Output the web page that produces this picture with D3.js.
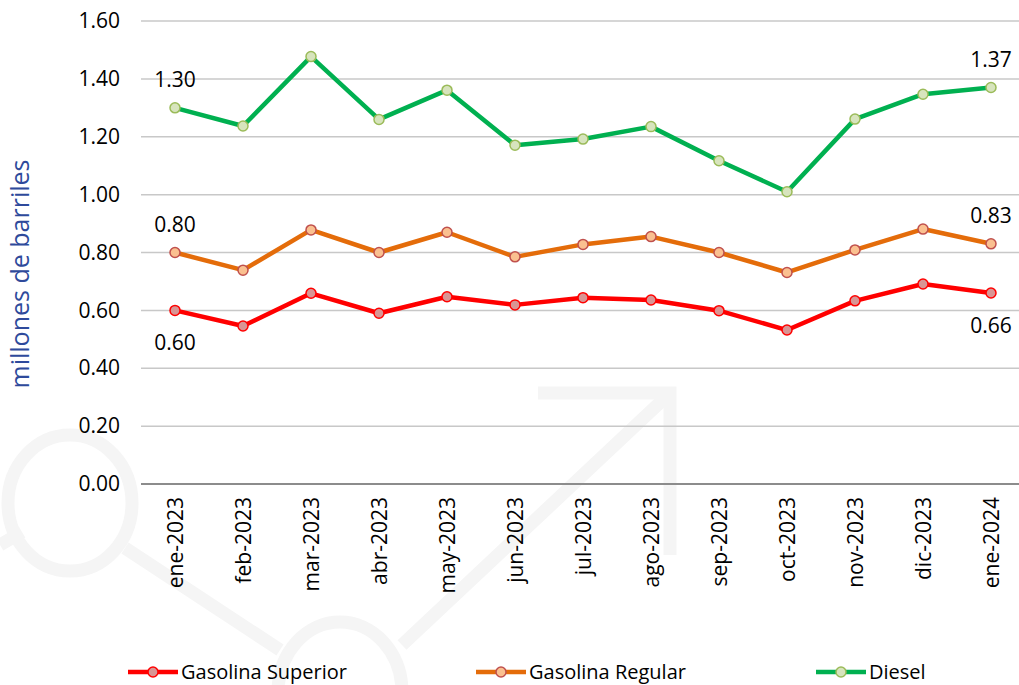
<!DOCTYPE html>
<html>
  <head>
    <meta charset="utf-8" />
    <title>Ventas de combustibles</title>
    <script src="https://d3js.org/d3.v7.min.js"></script>
    <style>
        body { margin: 0; background: #fff; }
        text { font-family: "Open Sans", sans-serif; fill: #000; }
        .tick text { font-size: 21px; }
    </style>
  </head>
<body>
    <svg id="chart" width="1019" height="685"></svg>

    <script>
        var months = ["ene-2023", "feb-2023", "mar-2023", "abr-2023", "may-2023", "jun-2023",
                      "jul-2023", "ago-2023", "sep-2023", "oct-2023", "nov-2023", "dic-2023", "ene-2024"];

        var superior = [0.60, 0.546, 0.659, 0.590, 0.647, 0.619, 0.644, 0.636, 0.599, 0.532, 0.633, 0.691, 0.66];
        var regular  = [0.80, 0.739, 0.878, 0.800, 0.870, 0.785, 0.828, 0.855, 0.800, 0.731, 0.809, 0.881, 0.83];
        var diesel   = [1.30, 1.237, 1.477, 1.260, 1.361, 1.171, 1.192, 1.235, 1.117, 1.010, 1.261, 1.347, 1.37];

        var yTicks = [0, 0.2, 0.4, 0.6, 0.8, 1.0, 1.2, 1.4, 1.6];

        var seriesNames = ["Gasolina Superior", "Gasolina Regular", "Diesel"];

        var series = [
            { name: seriesNames[0], values: superior, line: "#ff0000", fill: "#d99594", stroke: "#ff0000", labelPos: "below" },
            { name: seriesNames[1], values: regular,  line: "#e46c0a", fill: "#fac090", stroke: "#c0504d", labelPos: "above" },
            { name: seriesNames[2], values: diesel,   line: "#00b050", fill: "#d7e4bd", stroke: "#9bbb59", labelPos: "above" }
        ];

        var svg = d3.select("#chart");

        // faint watermark behind the chart
        var wm = svg.append("g")
            .attr("fill", "none")
            .attr("stroke", "#f5f5f5")
            .attr("stroke-width", 13);
        wm.append("ellipse").attr("cx", 70).attr("cy", 503).attr("rx", 62).attr("ry", 68);
        wm.append("ellipse").attr("cx", 340).attr("cy", 692).attr("rx", 62).attr("ry", 70);
        wm.append("line").attr("x1", 0).attr("y1", 545).attr("x2", 22).attr("y2", 532);
        wm.append("line").attr("x1", 125).attr("y1", 548).attr("x2", 280).attr("y2", 650);
        wm.append("line").attr("x1", 402).attr("y1", 645).attr("x2", 668).attr("y2", 395);
        wm.append("polyline").attr("points", "538,393 670,393 670,555");

        var x = d3.scaleBand()
            .domain(months)
            .range([141, 1025]);

        var y = d3.scaleLinear()
            .domain([0, 1.6])
            .range([484, 21]);

        // gridlines
        svg.append("g")
            .selectAll("line")
            .data(yTicks)
            .enter().append("line")
            .attr("x1", 141)
            .attr("x2", 1025)
            .attr("y1", function(d) { return y(d); })
            .attr("y2", function(d) { return y(d); })
            .attr("stroke", function(d) { return d == 0 ? "#8c8c8c" : "#c8c8c8"; })
            .attr("stroke-width", function(d) { return d == 0 ? 2 : 1.5; });

        // y axis
        var yAxis = svg.append("g")
            .attr("transform", "translate(120,0)")
            .call(d3.axisLeft(y).tickValues(yTicks).tickFormat(d3.format(".2f")).tickSize(0).tickPadding(0));
        yAxis.select(".domain").remove();
        yAxis.selectAll("text").attr("fill", "#000");

        // x axis, rotated labels
        var xAxis = svg.append("g")
            .attr("transform", "translate(0,484)")
            .call(d3.axisBottom(x).tickSize(0));
        xAxis.select(".domain").remove();
        xAxis.selectAll("text")
            .attr("fill", "#000")
            .attr("transform", "rotate(-90)")
            .attr("x", -13)
            .attr("y", 0)
            .attr("dy", "0.36em")
            .style("text-anchor", "end");

        // y title
        svg.append("text")
            .attr("transform", "translate(20,274) rotate(-90)")
            .attr("text-anchor", "middle")
            .attr("dy", "0.36em")
            .style("font-size", "25px")
            .style("font-weight", "500")
            .style("fill", "#2e4a9b")
            .text("millones de barriles");

        var line = d3.line()
            .x(function(d, i) { return x(months[i]) + x.bandwidth() / 2; })
            .y(function(d) { return y(d); });

        var groups = svg.selectAll(".serie")
            .data(series)
            .enter().append("g")
            .attr("class", "serie");

        groups.append("path")
            .attr("d", function(d) { return line(d.values); })
            .attr("fill", "none")
            .attr("stroke", function(d) { return d.line; })
            .attr("stroke-width", 4.5)
            .attr("stroke-linejoin", "round");

        groups.each(function(s) {
            d3.select(this).selectAll("circle")
                .data(s.values)
                .enter().append("circle")
                .attr("cx", function(d, i) { return x(months[i]) + x.bandwidth() / 2; })
                .attr("cy", function(d) { return y(d); })
                .attr("r", 5)
                .attr("fill", s.fill)
                .attr("stroke", s.stroke)
                .attr("stroke-width", 1.5);

            // labels only on first and last point
            var last = s.values.length - 1;
            d3.select(this).selectAll("text.lbl")
                .data([0, last])
                .enter().append("text")
                .attr("class", "lbl")
                .attr("x", function(i) { return x(months[i]) + x.bandwidth() / 2; })
                .attr("y", function(i) { return y(s.values[i]) + (s.labelPos == "above" ? -28 : 32); })
                .attr("dy", "0.36em")
                .attr("text-anchor", "middle")
                .style("font-size", "21px")
                .text(function(i) { return d3.format(".2f")(s.values[i]); });
        });

        // legend
        var legendX = [128, 476, 816];
        var legend = svg.selectAll(".legend")
            .data(series)
            .enter().append("g")
            .attr("class", "legend")
            .attr("transform", function(d, i) { return "translate(" + legendX[i] + ",672)"; });

        legend.append("line")
            .attr("x1", 0).attr("x2", 50)
            .attr("stroke", function(d) { return d.line; })
            .attr("stroke-width", 4.5);
        legend.append("circle")
            .attr("cx", 25)
            .attr("r", 5)
            .attr("fill", function(d) { return d.fill; })
            .attr("stroke", function(d) { return d.stroke; })
            .attr("stroke-width", 1.5);
        legend.append("text")
            .attr("x", 53)
            .attr("dy", "0.36em")
            .style("font-size", "20px")
            .text(function(d) { return d.name; });
    </script>
</body>
</html>
